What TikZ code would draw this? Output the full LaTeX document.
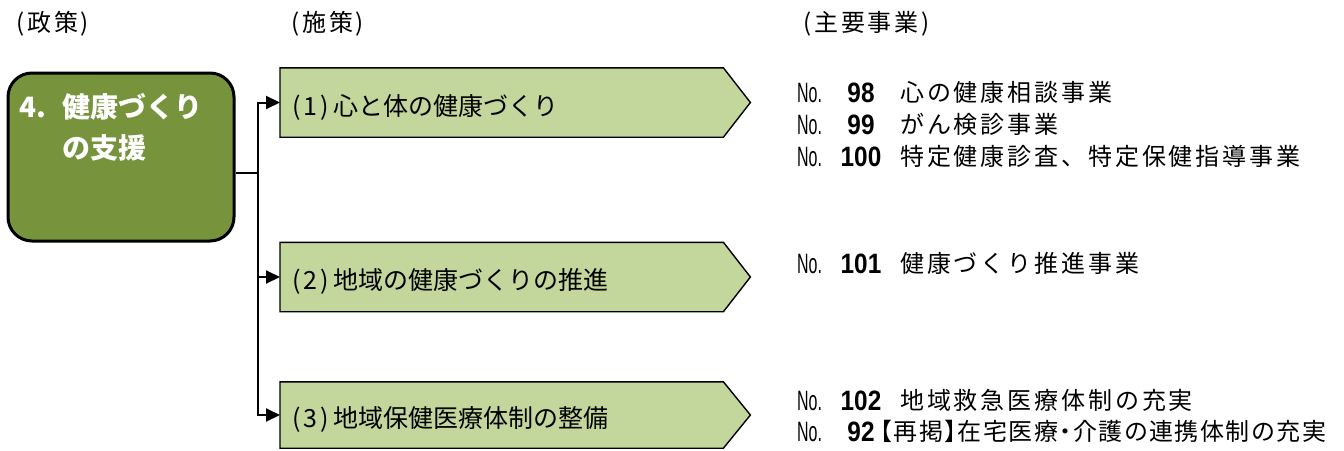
\documentclass[tikz,border=0pt]{standalone}
\usepackage{graphicx}
\usepackage{fontspec}
\newfontfamily\jp{Noto Sans CJK JP}
\newfontfamily\jplist[LetterSpace=12]{Noto Sans CJK JP}
\newfontfamily\jplisth[LetterSpace=6,RawFeature=+halt]{Noto Sans CJK JP}
\newfontfamily\lib{Liberation Sans}
\usetikzlibrary{arrows.meta}
\definecolor{polgreen}{HTML}{77933C}
\definecolor{measgreen}{HTML}{C3D69B}
\tikzset{
  hd/.style={anchor=base west, inner sep=0pt, font=\jplist\fontsize{24}{24}\selectfont},
  itemtxt/.style={anchor=base west, inner sep=0pt, font=\jplist\fontsize{24}{24}\selectfont},
  itemtxth/.style={anchor=base west, inner sep=0pt, font=\jplisth\fontsize{24}{24}\selectfont},
  nolab/.style={anchor=base west, inner sep=0pt, font=\lib\fontsize{28}{28}\selectfont},
  numlab/.style={anchor=base, inner sep=0pt, font=\lib\bfseries\fontsize{28}{28}\selectfont},
  polbox/.style={draw=black, line width=3pt, rounded corners=24pt, fill=polgreen,
    minimum width=226pt, minimum height=168pt, inner sep=0pt},
  boxtxt/.style={anchor=base west, inner sep=0pt, text=white,
    font=\jp\bfseries\fontsize{28}{28}\selectfont},
  meas/.style={anchor=west, minimum width=443pt, minimum height=69pt, inner sep=0pt},
  measshape/.style={draw=black, line width=1.4pt, fill=measgreen, line join=miter},
  meastxt/.style={anchor=base west, inner sep=0pt, font=\jp\fontsize{25}{25}\selectfont},
  conn/.style={draw=black, line width=2pt},
  tipped/.style={-{Triangle[length=14pt,width=13pt]}}
}
\newcommand{\nolabel}{\scalebox{0.57}[1]{No.}}
\newcommand{\numb}[1]{\scalebox{0.87}[1]{#1}}
\begin{document}
\begin{tikzpicture}[x=1pt,y=-1pt]
\useasboundingbox (0,0) rectangle (1344,450);
% headings
\node[hd] (h1) at (16,31.6) {(政策)};
\node[hd] (h2) at (291,31.6) {(施策)};
\node[hd] (h3) at (803,31.6) {(主要事業)};
% policy box
\node[polbox] (pol) at (121,157) {};
\node[boxtxt] (t1a) at (19,117.6) {4.};
\node[boxtxt] (t1b) at (62,117.6) {健康づくり};
\node[boxtxt] (t1c) at (62,158.6) {の支援};
% measure shapes
\node[meas] (a1) at (280,102.5) {};
\node[meas] (a2) at (280,277) {};
\node[meas, minimum height=66pt] (a3) at (280,415) {};
\foreach \n in {a1,a2,a3}{
  \draw[measshape] (\n.north west) -- (\n.north east) -- ([xshift=27pt]\n.east)
    -- (\n.south east) -- (\n.south west) -- cycle;
}
\node[meastxt] (m1) at (292,115.5) {(\kern3pt 1\kern3pt)\kern5pt 心と体の健康づくり};
\node[meastxt] (m2) at (292,289.5) {(\kern3pt 2\kern3pt)\kern5pt 地域の健康づくりの推進};
\node[meastxt] (m3) at (292,427.5) {(\kern3pt 3\kern3pt)\kern5pt 地域保健医療体制の整備};
% connectors
\coordinate (j) at (258,173);
\draw[conn] (pol.east |- j) -- (j);
\draw[conn,tipped] (j) |- (a1.west);
\draw[conn,tipped] (j) |- (a3.west);
\draw[conn,tipped] (j |- a2.west) -- (a2.west);
% items
\node[nolab] (n1) at (797,102) {\nolabel};
\node[numlab] (k1) at (861,102) {\numb{98}};
\node[itemtxt] (i1) at (900,101.1) {心の健康相談事業};
\node[nolab] (n2) at (797,134) {\nolabel};
\node[numlab] (k2) at (861,134) {\numb{99}};
\node[itemtxt] (i2) at (900,133.1) {がん検診事業};
\node[nolab] (n3) at (797,166) {\nolabel};
\node[numlab] (k3) at (861,166) {\numb{100}};
\node[itemtxt] (i3) at (900,165.1) {特定健康診査、特定保健指導事業};
\node[nolab] (n4) at (797,273) {\nolabel};
\node[numlab] (k4) at (861,273) {\numb{101}};
\node[itemtxt] (i4) at (900,272.1) {健康づくり推進事業};
\node[nolab] (n5) at (797,410) {\nolabel};
\node[numlab] (k5) at (861,410) {\numb{102}};
\node[itemtxt] (i5) at (900,409.1) {地域救急医療体制の充実};
\node[nolab] (n6) at (797,441) {\nolabel};
\node[numlab] (k6) at (861,441) {\numb{92}};
\node[itemtxth] (i6) at (880,440.1) {【再掲】在宅医療・介護の連携体制の充実};
\end{tikzpicture}
\end{document}
